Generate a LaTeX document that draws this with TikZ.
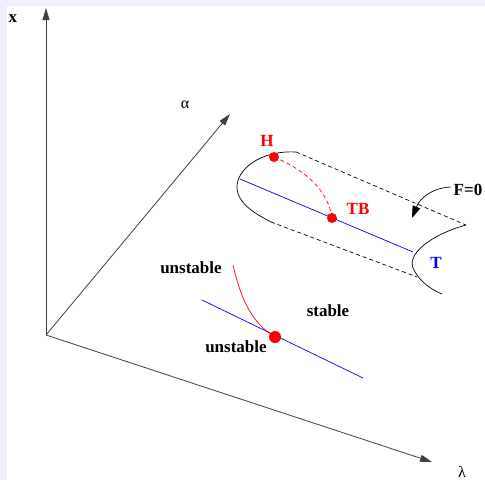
\documentclass[tikz,border=0pt]{standalone}
\usepackage{fontspec}
\setmainfont{Liberation Serif}
\usetikzlibrary{arrows.meta}
\definecolor{lav}{RGB}{238,238,252}
\definecolor{myred}{RGB}{255,0,0}
\definecolor{myblue}{RGB}{0,0,255}
\tikzset{
  axis/.style={draw=black!75, line width=0.8pt, -{Triangle[length=12pt,width=7pt]}},
  lbl/.style={inner sep=0pt, font=\fontsize{17}{20}\selectfont\bfseries},
  glbl/.style={inner sep=0pt, font=\fontsize{16}{19}\selectfont},
  dotr/.style={circle, fill=myred, inner sep=0pt, minimum size=#1},
  tube/.style={draw=black, line width=0.7pt},
  tubed/.style={draw=black, line width=0.7pt, dash pattern=on 4pt off 3pt},
}
\begin{document}
\begin{tikzpicture}[x=1pt,y=-1pt]
\useasboundingbox (0,0) rectangle (485,480);
\fill[lav] (0,0) rectangle (485,480);
\fill[white] (7,6) rectangle (485,480);
% axes
\coordinate (O) at (46,335);
\coordinate (xt) at (46,8);
\coordinate (lt) at (432,462);
\coordinate (at) at (230,114);
\draw[axis] (O) -- (xt);
\draw[axis] (O) -- (lt);
\draw[axis] (O) -- (at);
\node[lbl] (xl) at (13,19) {x};
\node[glbl] (al) at (185,105) {α};
\node[glbl, anchor=south] (ll) at (462,478) {λ};
% tube
\coordinate (p1) at (296,152);
\coordinate (p2) at (271,222);
\coordinate (q1) at (466,225);
\coordinate (q2) at (417,277);
\coordinate (q3) at (442,294);
\draw[tube] (p1) .. controls (260,150) and (236,170) .. (237,188) .. controls (238,205) and (258,215) .. (p2);
\draw[tube] (q1) .. controls (430,235) and (405,255) .. (414,270) .. controls (420,282) and (432,290) .. (q3);
\draw[tubed] (p1) -- (q1);
\draw[tubed] (p2) -- (q2);
% T line
\coordinate (t1) at (240,179);
\coordinate (t2) at (413,252);
\draw[myblue, line width=0.7pt] (t1) -- (t2);
\node[dotr=10pt] (H) at (274,157) {};
\node[dotr=10pt] (TB) at (332,218) {};
\draw[myred, line width=0.7pt, dash pattern=on 4pt off 3pt] (H.center) .. controls (305,170) and (328,190) .. (TB.center);
\node[lbl, text=myred] (Hl) at (267,141) {H};
\node[lbl, text=myred] (TBl) at (358,209) {TB};
\node[lbl, text=myblue] (Tl) at (436,263) {T};
\node[lbl] (F) at (468,190) {F=0};
\draw[line width=0.7pt, -{Triangle[length=12pt,width=8pt]}] (F.west) ++(-3,-3) .. controls (432,188) and (420,198) .. (412,218);
% lower
\coordinate (b1) at (202,300);
\coordinate (b2) at (363,378);
\draw[myblue, line width=0.7pt] (b1) -- (b2);
\node[dotr=12pt] (D) at (275,337) {};
\coordinate (r1) at (233,265);
\draw[myred, line width=0.7pt] (r1) .. controls (240,295) and (250,322) .. (D.center);
\node[lbl] (u1) at (191,268) {unstable};
\node[lbl] (st) at (328,311) {stable};
\node[lbl] (u2) at (236,347) {unstable};
\end{tikzpicture}
\end{document}
